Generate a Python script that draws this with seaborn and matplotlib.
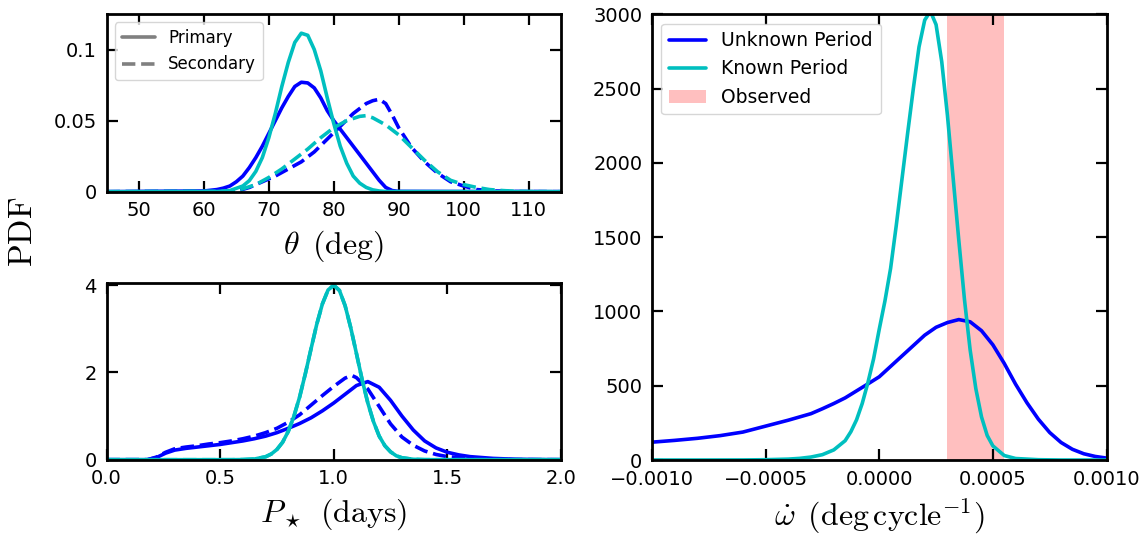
import numpy as np
import matplotlib
matplotlib.use("Agg")
import matplotlib.pyplot as plt
from matplotlib.lines import Line2D
from matplotlib.patches import Patch
import seaborn as sns

# ---------------- data ----------------
# theta panel (deg, PDF)
th_unk_pri_x = [45, 60, 62, 63, 64, 65, 66, 67, 68, 69, 70, 71, 72, 73, 74, 75, 76, 77, 78,
                79, 80, 81, 82, 83, 84, 85, 86, 87, 88, 89, 90, 115]
th_unk_pri_y = [0, 0.0005, 0.0015, 0.0025, 0.004, 0.007, 0.011, 0.017, 0.024, 0.032, 0.041,
                0.050, 0.059, 0.067, 0.074, 0.077, 0.0765, 0.073, 0.066, 0.057, 0.050, 0.044,
                0.038, 0.032, 0.026, 0.020, 0.014, 0.008, 0.003, 0.0008, 0.0002, 0]

th_kno_pri_x = [45, 62, 64, 66, 67, 68, 69, 70, 71, 72, 73, 74, 75, 76, 77, 78, 79, 80, 81,
                82, 83, 84, 85, 86, 87, 88, 115]
th_kno_pri_y = [0, 0.0001, 0.0008, 0.004, 0.0078, 0.0143, 0.024, 0.038, 0.055, 0.074, 0.091,
                0.105, 0.1115, 0.110, 0.100, 0.085, 0.066, 0.048, 0.032, 0.020, 0.011, 0.006,
                0.003, 0.0013, 0.0005, 0.0001, 0]

th_unk_sec_x = [45, 65, 67, 69, 71, 73, 75, 77, 79, 81, 83, 85, 86, 87, 88, 89, 90, 92, 94,
                96, 98, 100, 102, 105, 108, 115]
th_unk_sec_y = [0, 0.0003, 0.003, 0.007, 0.011, 0.016, 0.021, 0.028, 0.037, 0.046, 0.055,
                0.062, 0.064, 0.065, 0.062, 0.054, 0.045, 0.031, 0.021, 0.013, 0.007, 0.004,
                0.0015, 0.0005, 0.0001, 0]

th_kno_sec_x = [45, 64, 66, 68, 70, 72, 74, 76, 78, 80, 82, 84, 85, 86, 88, 90, 92, 94, 96,
                98, 100, 102, 104, 106, 108, 110, 115]
th_kno_sec_y = [0, 0.0003, 0.002, 0.005, 0.010, 0.016, 0.023, 0.030, 0.038, 0.045, 0.050,
                0.053, 0.0535, 0.052, 0.047, 0.040, 0.031, 0.022, 0.014, 0.008, 0.005, 0.003,
                0.0015, 0.0008, 0.0003, 0.0001, 0]

# stellar period panel (days, PDF)
p_unk_pri_x = [0.0, 0.18, 0.22, 0.26, 0.30, 0.35, 0.40, 0.45, 0.50, 0.55, 0.60, 0.65, 0.70,
               0.75, 0.80, 0.85, 0.90, 0.95, 1.00, 1.05, 1.10, 1.15, 1.20, 1.25, 1.30, 1.35,
               1.40, 1.45, 1.50, 1.55, 1.60, 1.70, 1.80, 1.90, 2.00]
p_unk_pri_y = [0, 0, 0.05, 0.15, 0.22, 0.26, 0.29, 0.32, 0.35, 0.39, 0.43, 0.48, 0.54,
               0.62, 0.72, 0.83, 0.96, 1.12, 1.30, 1.50, 1.70, 1.79, 1.66, 1.36, 1.00, 0.68,
               0.43, 0.27, 0.17, 0.11, 0.07, 0.03, 0.01, 0.003, 0]

p_unk_sec_x = [0.0, 0.18, 0.22, 0.26, 0.30, 0.35, 0.40, 0.45, 0.50, 0.55, 0.60, 0.65, 0.70,
               0.75, 0.80, 0.85, 0.90, 0.95, 1.00, 1.05, 1.08, 1.10, 1.15, 1.20, 1.25, 1.30,
               1.35, 1.40, 1.45, 1.50, 1.60, 1.70, 1.80, 2.00]
p_unk_sec_y = [0, 0, 0.06, 0.17, 0.25, 0.29, 0.32, 0.36, 0.39, 0.43, 0.48, 0.54, 0.62,
               0.72, 0.86, 1.03, 1.25, 1.47, 1.68, 1.87, 1.93, 1.88, 1.62, 1.22, 0.82, 0.52,
               0.33, 0.20, 0.12, 0.07, 0.025, 0.008, 0.002, 0]

p_kno_x = [0.0, 0.55, 0.60, 0.65, 0.70, 0.725, 0.75, 0.775, 0.80, 0.825, 0.85, 0.875, 0.90,
           0.925, 0.95, 0.975, 1.00, 1.025, 1.05, 1.075, 1.10, 1.125, 1.15, 1.175, 1.20,
           1.225, 1.25, 1.275, 1.30, 1.35, 1.40, 1.45, 2.00]
p_kno_y = [0, 0, 0.003, 0.015, 0.067, 0.13, 0.235, 0.40, 0.65, 1.00, 1.44, 1.97, 2.54,
           3.10, 3.57, 3.89, 4.00, 3.88, 3.53, 3.02, 2.43, 1.83, 1.30, 0.87, 0.54,
           0.32, 0.18, 0.09, 0.044, 0.009, 0.001, 0, 0]

# precession rate panel (x in units of 1e-3 deg / cycle, PDF)
w_unk_x = [-1.0, -0.9, -0.8, -0.7, -0.6, -0.5, -0.4, -0.3, -0.25, -0.2, -0.15, -0.1, -0.05,
           0.0, 0.05, 0.1, 0.15, 0.2, 0.25, 0.3, 0.35, 0.4, 0.45, 0.5, 0.55, 0.6, 0.65,
           0.7, 0.75, 0.8, 0.85, 0.9, 0.95, 1.0]
w_unk_y = [120, 132, 146, 164, 188, 228, 268, 312, 345, 380, 418, 465, 512,
           560, 630, 700, 770, 840, 893, 925, 945, 930, 870, 775, 650, 510, 385,
           275, 185, 118, 72, 42, 24, 13]

w_kno_x = [-1.0, -0.8, -0.6, -0.5, -0.4, -0.35, -0.3, -0.25, -0.2, -0.15, -0.125, -0.1,
           -0.075, -0.05, -0.025, 0.0, 0.025, 0.05, 0.075, 0.1, 0.125, 0.15, 0.175, 0.2,
           0.225, 0.25, 0.275, 0.3, 0.325, 0.35, 0.375, 0.4, 0.425, 0.45, 0.475, 0.5,
           0.55, 0.6, 0.7, 0.8, 1.0]
w_kno_y = [0, 0, 0.5, 2, 6, 11, 20, 36, 68, 130, 190, 270,
           380, 520, 680, 880, 1070, 1290, 1580, 1890, 2200, 2500, 2780, 2960,
           3020, 2930, 2680, 2320, 1900, 1480, 1080, 740, 480, 290, 165, 95,
           30, 10, 2, 0, 0]

obs_range = [0.30, 0.55]   # units of 1e-3 deg/cycle

theta_xticks = [50, 60, 70, 80, 90, 100, 110]
theta_yticks = [0, 0.05, 0.1]
theta_yticklabels = ["0", "0.05", "0.1"]
p_xticks = [0.0, 0.5, 1.0, 1.5, 2.0]
p_yticks = [0, 2, 4]
w_xticks = [-0.0010, -0.0005, 0.0, 0.0005, 0.0010]
w_xticklabels = ["\u22120.0010", "\u22120.0005", "0.0000", "0.0005", "0.0010"]
w_yticks = [0, 500, 1000, 1500, 2000, 2500, 3000]

C_UNK = "b"
C_KNO = "c"

# ---------------- style ----------------
sns.set_style("ticks")
plt.rcParams["font.family"] = ["DejaVu Sans"]
plt.rcParams["mathtext.fontset"] = "cm"
for k in ["text.color", "axes.labelcolor", "xtick.color", "ytick.color",
          "axes.edgecolor"]:
    plt.rcParams[k] = "black"

W, H = 1147, 542
fig = plt.figure(figsize=(W / 100, H / 100), dpi=100)

def px_axes(l, t, r, b):
    return fig.add_axes([l / W, 1 - b / H, (r - l) / W, (b - t) / H])

ax1 = px_axes(106.5, 14, 561, 191.7)
ax2 = px_axes(106.5, 283, 561, 459.7)
ax3 = px_axes(652, 14.2, 1106.5, 460)

LW = 2.6
def style(ax):
    ax.tick_params(which="both", direction="in", top=True, right=True, length=8,
                   width=1.6, labelsize=14, pad=7, color="black", labelcolor="black")
    for s in ax.spines.values():
        s.set_linewidth(2.0)
        s.set_color("black")

# --- theta panel ---
sns.lineplot(x=th_unk_pri_x, y=th_unk_pri_y, ax=ax1, color=C_UNK, lw=LW)
sns.lineplot(x=th_unk_sec_x, y=th_unk_sec_y, ax=ax1, color=C_UNK, lw=LW, linestyle="--")
sns.lineplot(x=th_kno_pri_x, y=th_kno_pri_y, ax=ax1, color=C_KNO, lw=LW)
sns.lineplot(x=th_kno_sec_x, y=th_kno_sec_y, ax=ax1, color=C_KNO, lw=LW, linestyle="--")
ax1.set_xlim(45, 115)
ax1.set_ylim(0, 0.125)
ax1.set_xticks(theta_xticks)
ax1.set_yticks(theta_yticks)
ax1.set_yticklabels(theta_yticklabels)
ax1.set_xlabel(r"$\theta\ \,(\mathrm{deg})$", fontsize=23, labelpad=6)
ax1.set_ylabel("")
style(ax1)
h_pri = Line2D([], [], color="0.5", lw=LW, linestyle="-")
h_sec = Line2D([], [], color="0.5", lw=LW, linestyle="--")
ax1.legend([h_pri, h_sec], ["Primary", "Secondary"], loc="upper left", fontsize=12)

# --- stellar period panel ---
sns.lineplot(x=p_unk_pri_x, y=p_unk_pri_y, ax=ax2, color=C_UNK, lw=LW)
sns.lineplot(x=p_unk_sec_x, y=p_unk_sec_y, ax=ax2, color=C_UNK, lw=LW, linestyle="--")
sns.lineplot(x=p_kno_x, y=p_kno_y, ax=ax2, color=C_KNO, lw=LW, linestyle="--")
sns.lineplot(x=p_kno_x, y=p_kno_y, ax=ax2, color=C_KNO, lw=LW)
ax2.set_xlim(0, 2.0)
ax2.set_ylim(0, 4.05)
ax2.set_xticks(p_xticks)
ax2.set_yticks(p_yticks)
ax2.set_xlabel(r"$P_\star\ \,(\mathrm{days})$", fontsize=23, labelpad=6)
ax2.set_ylabel("")
style(ax2)

# --- precession panel ---
wx_unk = np.array(w_unk_x) * 1e-3
wx_kno = np.array(w_kno_x) * 1e-3
ax3.axvspan(obs_range[0] * 1e-3, obs_range[1] * 1e-3, color="r", alpha=0.25, lw=0,
            zorder=0)
sns.lineplot(x=wx_unk, y=w_unk_y, ax=ax3, color=C_UNK, lw=LW)
sns.lineplot(x=wx_kno, y=w_kno_y, ax=ax3, color=C_KNO, lw=LW)
ax3.set_xlim(-0.001, 0.001)
ax3.set_ylim(0, 3000)
ax3.set_xticks(w_xticks)
ax3.set_xticklabels(w_xticklabels)
ax3.set_yticks(w_yticks)
ax3.set_xlabel(r"$\dot{\omega}\ \,(\mathrm{deg\,cycle^{-1}})$", fontsize=23, labelpad=6)
ax3.set_ylabel("")
style(ax3)
h_unk = Line2D([], [], color=C_UNK, lw=LW)
h_kno = Line2D([], [], color=C_KNO, lw=LW)
h_obs = Patch(facecolor="r", alpha=0.25, lw=0)
ax3.legend([h_unk, h_kno, h_obs], ["Unknown Period", "Known Period", "Observed"],
           loc="upper left", fontsize=13.5)

fig.text(23 / W, 1 - 232 / H, r"$\mathrm{PDF}$", rotation=90, fontsize=24,
         ha="center", va="center")

fig.savefig("out.png", dpi=100)
